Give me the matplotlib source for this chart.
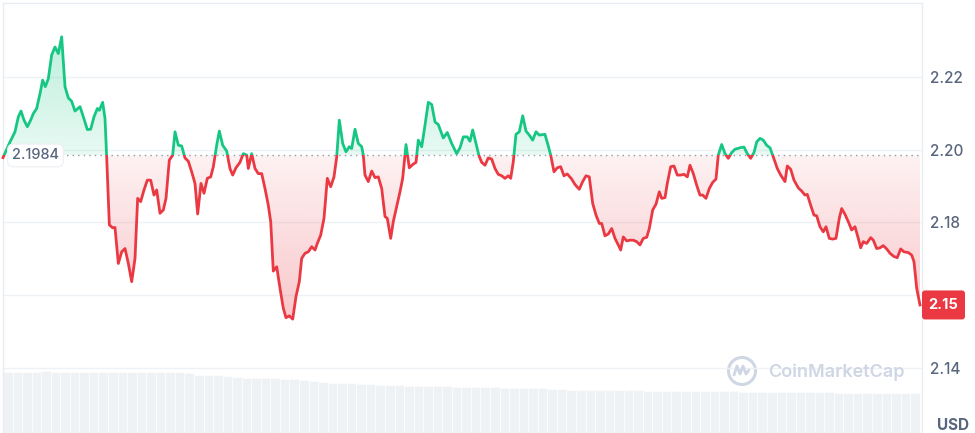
import matplotlib
matplotlib.use("Agg")
import matplotlib.pyplot as plt
import matplotlib.colors as mcolors
import numpy as np
from matplotlib.patches import Rectangle, FancyBboxPatch, Ellipse
from matplotlib.path import Path
from matplotlib.lines import Line2D
from matplotlib.transforms import blended_transform_factory

plt.rcParams["font.family"] = ["Inter", "DejaVu Sans"]

GREEN = "#16c784"
RED = "#ea3943"
TXT = "#58667e"
GRID = "#eff2f5"
WATERMARK = "#cfd6e4"

# 24h price, hours since window start
hours = [
    0.0, 0.183, 0.314, 0.401, 0.471, 0.550, 0.637, 0.724, 0.794, 0.881, 0.969, 1.038, 1.108, 1.187,
    1.274, 1.361, 1.448, 1.536, 1.623, 1.710, 1.797, 1.885, 2.016, 2.103, 2.208, 2.295, 2.382, 2.470,
    2.522, 2.609, 2.670, 2.714, 2.784, 2.871, 2.932, 3.019, 3.107, 3.194, 3.281, 3.369, 3.456, 3.525,
    3.604, 3.691, 3.778, 3.866, 3.953, 4.023, 4.110, 4.197, 4.267, 4.354, 4.442, 4.503, 4.590, 4.678,
    4.764, 4.851, 4.939, 5.026, 5.096, 5.183, 5.262, 5.349, 5.437, 5.506, 5.594, 5.663, 5.751, 5.856,
    5.942, 6.013, 6.099, 6.204,
    6.291, 6.380, 6.422, 6.510, 6.597, 6.683, 6.772, 6.859, 6.945, 7.008, 7.076, 7.165, 7.251, 7.338,
    7.408, 7.495, 7.584, 7.670, 7.757, 7.819, 7.906, 7.992, 8.081, 8.168, 8.228, 8.317, 8.403, 8.490,
    8.579, 8.665, 8.736, 8.804, 8.893, 8.979, 9.066, 9.128, 9.215, 9.301, 9.390, 9.432, 9.476, 9.563,
    9.652, 9.738, 9.825, 9.914, 10.000, 10.060, 10.149, 10.217, 10.306, 10.393, 10.463, 10.550, 10.636,
    10.725, 10.812, 10.872, 10.961, 11.047, 11.134, 11.223, 11.309, 11.395, 11.526, 11.631, 11.746,
    11.877, 11.963, 12.050, 12.154, 12.225,
    12.296, 12.382, 12.461, 12.531, 12.618, 12.704, 12.793, 12.880, 12.966, 13.055, 13.141, 13.228,
    13.291, 13.359, 13.429, 13.516, 13.605, 13.691, 13.777, 13.866, 13.953, 14.039, 14.188, 14.275,
    14.338, 14.424, 14.510, 14.599, 14.686, 14.772, 14.887, 14.974, 15.086, 15.175, 15.262, 15.348,
    15.437, 15.524, 15.610, 15.673, 15.759, 15.846, 15.935, 16.021, 16.107, 16.170, 16.238, 16.327,
    16.414, 16.500, 16.589, 16.675, 16.762, 16.851, 16.919, 17.008, 17.094, 17.181, 17.243, 17.330,
    17.390, 17.479, 17.565, 17.652, 17.741, 17.827, 17.914, 17.984, 18.071, 18.160, 18.246,
    18.317, 18.403, 18.490, 18.579, 18.665, 18.725, 18.814, 18.901, 18.987, 19.076, 19.162, 19.293,
    19.398, 19.484, 19.573, 19.660, 19.730, 19.817, 19.903, 19.992, 20.079, 20.165, 20.270, 20.359,
    20.471, 20.531, 20.620, 20.707, 20.819, 20.908, 20.995, 21.055, 21.144, 21.230, 21.301, 21.387,
    21.474, 21.545, 21.631, 21.720, 21.806, 21.893, 21.955, 22.042, 22.128, 22.217, 22.304, 22.390,
    22.453, 22.521, 22.610, 22.715, 22.783, 22.872, 22.958, 23.045, 23.134, 23.220, 23.325, 23.411,
    23.500, 23.586, 23.699, 23.788, 23.848, 23.919, 24.005,
]
price = [
    2.1978, 2.2021, 2.2049, 2.2090, 2.2106, 2.2081, 2.2063, 2.2081, 2.2099, 2.2113, 2.2154, 2.2191,
    2.2173, 2.2195, 2.2260, 2.2282, 2.2264, 2.2310, 2.2173, 2.2142, 2.2133, 2.2106, 2.2118, 2.2090,
    2.2055, 2.2056, 2.2090, 2.2113, 2.2108, 2.2130, 2.2086, 2.1980, 2.1793, 2.1785, 2.1786, 2.1687,
    2.1719, 2.1728, 2.1687, 2.1637, 2.1701, 2.1866, 2.1857, 2.1889, 2.1916, 2.1916, 2.1875, 2.1889,
    2.1825, 2.1834, 2.1866, 2.1971, 2.1985, 2.2049, 2.2012, 2.2010, 2.1977, 2.1968, 2.1939, 2.1907,
    2.1823, 2.1907, 2.1880, 2.1921, 2.1925, 2.1953, 2.2012, 2.2051, 2.2012, 2.1996, 2.1948, 2.1930,
    2.1950, 2.1965,
    2.1989, 2.1985, 2.1948, 2.1989, 2.1948, 2.1934, 2.1934, 2.1893, 2.1847, 2.1802, 2.1666, 2.1678,
    2.1619, 2.1564, 2.1538, 2.1543, 2.1534, 2.1596, 2.1637, 2.1701, 2.1715, 2.1719, 2.1733, 2.1724,
    2.1742, 2.1765, 2.1811, 2.1921, 2.1898, 2.1925, 2.1980, 2.2081, 2.2017, 2.1994, 2.2008, 2.2003,
    2.2056, 2.2017, 2.2008, 2.1985, 2.1930, 2.1912, 2.1941, 2.1923, 2.1925, 2.1893, 2.1816, 2.1811,
    2.1756, 2.1802, 2.1843, 2.1884, 2.1921, 2.2014, 2.1950, 2.1959, 2.1965, 2.2026, 2.2008, 2.2067,
    2.2130, 2.2124, 2.2076, 2.2069, 2.2032, 2.2047, 2.2017, 2.1989, 2.2005, 2.2035, 2.2035, 2.2023,
    2.2054, 2.2017, 2.1983, 2.1965, 2.1957, 2.1977, 2.1974, 2.1948, 2.1932, 2.1928, 2.1921, 2.1928,
    2.1921, 2.1967, 2.2042, 2.2049, 2.2093, 2.2051, 2.2040, 2.2026, 2.2049, 2.2040, 2.2042, 2.2010,
    2.1985, 2.1939, 2.1950, 2.1953, 2.1928, 2.1933, 2.1919, 2.1904, 2.1891, 2.1912, 2.1928, 2.1925,
    2.1852, 2.1820, 2.1797, 2.1797, 2.1763, 2.1768, 2.1783, 2.1756, 2.1738, 2.1724, 2.1760, 2.1749,
    2.1751, 2.1751, 2.1747, 2.1738, 2.1756, 2.1759, 2.1783, 2.1834, 2.1850, 2.1884, 2.1866, 2.1868,
    2.1907, 2.1953, 2.1955, 2.1930, 2.1930, 2.1932, 2.1925, 2.1957, 2.1934, 2.1902, 2.1875,
    2.1875, 2.1866, 2.1893, 2.1910, 2.1919, 2.1985, 2.2014, 2.1989, 2.1976, 2.1992, 2.2001, 2.2005,
    2.2007, 2.1989, 2.1976, 2.1992, 2.2021, 2.2031, 2.2026, 2.2012, 2.2005, 2.1980, 2.1948, 2.1930,
    2.1912, 2.1955, 2.1946, 2.1916, 2.1895, 2.1886, 2.1875, 2.1877, 2.1847, 2.1820, 2.1818, 2.1788,
    2.1774, 2.1788, 2.1756, 2.1754, 2.1756, 2.1811, 2.1838, 2.1822, 2.1802, 2.1779, 2.1788, 2.1756,
    2.1730, 2.1747, 2.1742, 2.1758, 2.1751, 2.1728, 2.1730, 2.1736, 2.1727, 2.1715, 2.1706, 2.1703,
    2.1727, 2.1719, 2.1717, 2.1710, 2.1692, 2.1619, 2.1573,
]
open_price = 2.1984
price_ticks = [2.14, 2.16, 2.18, 2.20, 2.22]
tick_labels = ["2.14", "", "2.18", "2.20", "2.22"]  # 2.16 sits under the price badge

# rolling volume, 15 min bars (relative units)
vol_step = 0.25
volume = [
    61, 61, 61, 61, 62, 61, 61, 61, 61, 61, 61, 61, 61, 61, 61, 61, 61, 61, 61, 60,
    58, 58, 58, 57, 56,
    55, 55, 55, 55, 54, 54, 53,
    52, 51,
    50, 50, 50, 49,
    49, 48, 48, 48, 47, 47, 47, 47, 47,
    46, 46, 46, 46, 46, 45,
    45, 45, 45, 45, 44, 44, 43,
    43, 43, 43, 43, 43, 43, 43, 42, 42, 42, 42, 42, 42, 42, 42,
    42, 42, 41, 41, 41, 41, 41, 41, 41, 41, 41, 41, 40, 40, 40, 40, 40, 40, 40, 40, 40,
]

t = np.array(hours)
p = np.array(price)
assert len(t) == len(p)

W, H = 975, 433
fig = plt.figure(figsize=(W / 100, H / 100), dpi=100)
rect = [3 / W, 0, 919 / W, 430 / H]
axv = fig.add_axes(rect)
ax = fig.add_axes(rect)
axv.set_zorder(0)
ax.set_zorder(1)
ax.patch.set_visible(False)

t_max = 24.058
y_lo, y_hi = 2.1221, 2.2403

# volume bars
vt = np.arange(len(volume)) * vol_step
axv.bar(vt, volume, width=vol_step, align="edge", color="#eff2f5", edgecolor="white", linewidth=0.4)
axv.set_xlim(0, t_max)
axv.set_ylim(0, 430)
axv.axis("off")

# grid
for v in price_ticks:
    ax.axhline(v, color=GRID, lw=1, zorder=1)


def gradient_fill(above, color, a_near, a_far):
    if above:
        coll = ax.fill_between(t, p, open_price, where=p >= open_price, interpolate=True,
                               facecolor="none", edgecolor="none")
        lo, hi = open_price, p.max()
        alphas = np.linspace(a_near, a_far, 256)
    else:
        coll = ax.fill_between(t, p, open_price, where=p <= open_price, interpolate=True,
                               facecolor="none", edgecolor="none")
        lo, hi = p.min(), open_price
        alphas = np.linspace(a_far, a_near, 256)
    img = np.zeros((256, 1, 4))
    img[..., :3] = mcolors.to_rgb(color)
    img[:, 0, 3] = alphas
    im = ax.imshow(img, extent=[t[0], t[-1], lo, hi], origin="lower", aspect="auto",
                   interpolation="bilinear", zorder=2)
    clip = Path.make_compound_path(*coll.get_paths())
    im.set_clip_path(clip, transform=ax.transData)


gradient_fill(True, GREEN, 0.10, 0.28)
gradient_fill(False, RED, 0.07, 0.28)

# baseline
ax.axhline(open_price, xmin=58 / 919, xmax=1, color="#8f98a8", lw=1, ls=(0, (1, 3)), zorder=3)

# price line, green above the open, red below
for col, clip_y in ((GREEN, open_price), (RED, open_price - 1)):
    ln, = ax.plot(t, p, color=col, lw=2.0, solid_joinstyle="round", zorder=4)
    ln.set_clip_path(Rectangle((-1, clip_y), 30, 1, transform=ax.transData))

bt = blended_transform_factory(ax.transAxes, ax.transData)
px_y = (y_hi - y_lo) / 430

# open price label
ax.text(9 / 919, open_price, f"{open_price:.4f}", transform=bt, ha="left", va="center",
        fontsize=10.5, fontweight="medium", color=TXT, zorder=6,
        bbox=dict(boxstyle="round,pad=0.3,rounding_size=0.4", fc="white", ec="#eceff3", lw=0.8))

# last price badge
last = p[-1]
bw, bh = 43 / 919, 29 * px_y
ax.add_patch(FancyBboxPatch((1.0, last - bh / 2), bw, bh,
                            boxstyle=f"round,pad=0,rounding_size={3 / 919}",
                            mutation_aspect=px_y * 919, transform=bt, fc=RED, ec="none",
                            clip_on=False, zorder=10))
ax.text(1.0 + bw / 2, last, f"{np.floor(last * 100) / 100:.2f}", transform=bt, ha="center",
        va="center", color="white", fontsize=10.5, fontweight="bold", zorder=11, clip_on=False)

ax.set_xlim(0, t_max)
ax.set_ylim(y_lo, y_hi)
ax.set_xticks([])
ax.yaxis.tick_right()
ax.set_yticks(price_ticks)
ax.set_yticklabels(tick_labels, fontweight="medium")
ax.tick_params(axis="y", length=0, pad=6, labelsize=11, labelcolor=TXT)
for s in ("left", "top", "right"):
    ax.spines[s].set_color("#e9edf2")
    ax.spines[s].set_linewidth(1)
ax.spines["bottom"].set_visible(False)

fig.text(937 / W, 1 - 425.5 / H, "USD", fontsize=11, fontweight="bold", color=TXT, va="center")

# watermark
fig.text(768 / W, 1 - 372 / H, "CoinMarketCap", fontsize=13, fontweight="semibold",
         color=WATERMARK, va="center", ha="left")
cx, cy = 742, 371
fig.add_artist(Ellipse((cx / W, 1 - cy / H), 27 / W, 27 / H, fill=False, ec=WATERMARK, lw=2.2,
                       transform=fig.transFigure))
mx = [-8, -5, -2, 1, 4, 7]
my = [-4, 5, -3, 5, -3, 1]
fig.add_artist(Line2D([(cx + a) / W for a in mx], [1 - (cy - b) / H for b in my], color=WATERMARK,
                      lw=2.0, solid_joinstyle="round", solid_capstyle="round",
                      transform=fig.transFigure))

fig.savefig("out.png", dpi=100)
